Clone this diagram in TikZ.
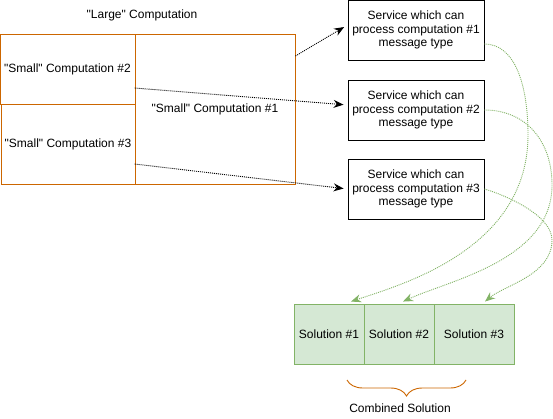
\documentclass[tikz,border=0pt]{standalone}
\usepackage{fontspec}
\setmainfont{Liberation Sans}
\usetikzlibrary{arrows.meta,decorations.pathreplacing}
\definecolor{compedge}{RGB}{204,102,0}
\definecolor{solfill}{HTML}{D5E8D4}
\definecolor{soledge}{HTML}{82B366}

\begin{document}
\begin{tikzpicture}[x=1pt,y=-1pt,>={Stealth[length=10pt,width=8pt]},line width=0.9pt,
        font=\fontsize{12}{13.5}\selectfont,align=center,
        comp/.style={draw=compedge,inner sep=0pt},
        service/.style={draw,minimum width=136pt,minimum height=60pt,inner sep=0pt},
        sol/.style={draw=soledge,fill=solfill,minimum height=60pt,inner sep=0pt},
        msg/.style={->,dash pattern=on 1pt off 1pt,shorten >=4pt},
        merge/.style={->,draw=soledge,dash pattern=on 1pt off 1pt}]
        \useasboundingbox (0,0) rectangle (553,419);

        \node (large) at (142,15) {\textquotedbl Large\textquotedbl{} Computation};
        \node[comp,minimum width=160pt,minimum height=150pt] (c1) at (215,109) {\textquotedbl Small\textquotedbl{} Computation \#1};
        \node[comp,minimum width=135pt,minimum height=70pt] (c2) at (67.5,69) {\textquotedbl Small\textquotedbl{} Computation \#2};
        \node[comp,minimum width=134pt,minimum height=80pt] (c3) at (68,144) {\textquotedbl Small\textquotedbl{} Computation \#3};

        \node[service] (sv1) at (416,30) {Service which can\\process computation \#1\\message type};
        \node[service] (sv2) at (416,110) {Service which can\\process computation \#2\\message type};
        \node[service] (sv3) at (416,189) {Service which can\\process computation \#3\\message type};

        \node[sol,minimum width=70pt] (so1) at (329,334) {Solution \#1};
        \node[sol,minimum width=70pt] (so2) at (399,334) {Solution \#2};
        \node[sol,minimum width=80pt] (so3) at (474,334) {Solution \#3};

        \path[msg] ([yshift=53pt]c1.east) edge ([yshift=5pt]sv1.west)
                   ([yshift=21pt]c1.west) edge ([yshift=5pt]sv2.west)
                   ([yshift=-55pt]c1.west) edge (sv3.west);

        % results back to the combined solution
        \draw[merge] ([yshift=-14pt]sv1.east) .. controls (515,44) and (528,85) .. (528,135)
                     .. controls (528,250) and (400,285) .. ([xshift=22pt,yshift=2pt]so1.north);
        \draw[merge] (sv2.east) .. controls (525,110) and (552,140) .. (552,185)
                     .. controls (552,260) and (450,280) .. ([xshift=4pt,yshift=2pt]so2.north);
        \draw[merge] (sv3.east) .. controls (505,195) and (552,215) .. (552,240)
                     .. controls (552,275) and (505,285) .. ([xshift=11pt,yshift=2pt]so3.north);

        \draw[compedge,decorate,decoration={brace,mirror,amplitude=16pt}] (347,380) -- (466,380);
        \node (combined) at (400,408) {Combined Solution};
    \end{tikzpicture}
\end{document}
